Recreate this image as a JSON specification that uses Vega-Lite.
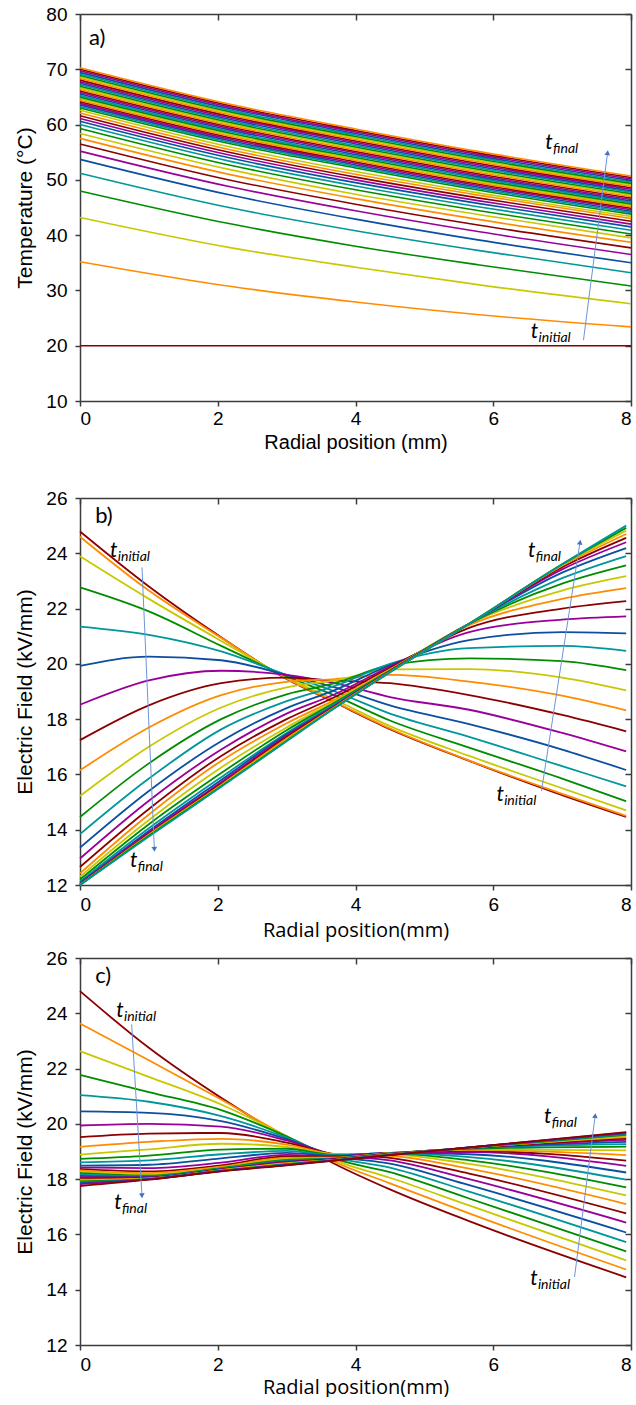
{
"$schema":"https://vega.github.io/schema/vega-lite/v6.json",
"padding":{"left":14,"top":5,"right":0,"bottom":0},
"config":{"view":{"stroke":null},"axis":{"domainColor":"#3c3c3c","tickColor":"#3c3c3c","domainWidth":1.5,"tickWidth":1.5,"labelFont":"Liberation Sans","labelFontSize":19,"labelColor":"#000","titleFont":"Liberation Sans","titleFontSize":20,"titleFontWeight":"normal","titleColor":"#000","grid":false,"tickSize":5,"labelPadding":8,"titlePadding":10}},
"datasets":{
"A":[
{"s":0,"r":0,"v":20},{"s":0,"r":2.2,"v":20},{"s":0,"r":4,"v":20},{"s":0,"r":5.8,"v":20},{"s":0,"r":8,"v":20},
{"s":1,"r":0,"v":35.2},{"s":1,"r":2.2,"v":30.7},{"s":1,"r":4,"v":27.9},{"s":1,"r":5.8,"v":25.6},{"s":1,"r":8,"v":23.4},
{"s":2,"r":0,"v":43.2},{"s":2,"r":2.2,"v":37.7},{"s":2,"r":4,"v":34.2},{"s":2,"r":5.8,"v":31.0},{"s":2,"r":8,"v":27.6},
{"s":3,"r":0,"v":48.0},{"s":3,"r":2.2,"v":42.0},{"s":3,"r":4,"v":38.0},{"s":3,"r":5.8,"v":34.6},{"s":3,"r":8,"v":30.8},
{"s":4,"r":0,"v":51.2},{"s":4,"r":2.2,"v":44.9},{"s":4,"r":4,"v":40.8},{"s":4,"r":5.8,"v":37.2},{"s":4,"r":8,"v":33.2},
{"s":5,"r":0,"v":53.7},{"s":5,"r":2.2,"v":47.2},{"s":5,"r":4,"v":42.9},{"s":5,"r":5.8,"v":39.1},{"s":5,"r":8,"v":35.0},
{"s":6,"r":0,"v":55.2},{"s":6,"r":2.2,"v":48.7},{"s":6,"r":4,"v":44.4},{"s":6,"r":5.8,"v":40.6},{"s":6,"r":8,"v":36.5},
{"s":7,"r":0,"v":56.5},{"s":7,"r":2.2,"v":49.9},{"s":7,"r":4,"v":45.6},{"s":7,"r":5.8,"v":41.8},{"s":7,"r":8,"v":37.7},
{"s":8,"r":0,"v":57.5},{"s":8,"r":2.2,"v":50.9},{"s":8,"r":4,"v":46.6},{"s":8,"r":5.8,"v":42.8},{"s":8,"r":8,"v":38.7},
{"s":9,"r":0,"v":58.4},{"s":9,"r":2.2,"v":51.8},{"s":9,"r":4,"v":47.4},{"s":9,"r":5.8,"v":43.7},{"s":9,"r":8,"v":39.5},
{"s":10,"r":0,"v":59.3},{"s":10,"r":2.2,"v":52.6},{"s":10,"r":4,"v":48.2},{"s":10,"r":5.8,"v":44.4},{"s":10,"r":8,"v":40.2},
{"s":11,"r":0,"v":60.0},{"s":11,"r":2.2,"v":53.3},{"s":11,"r":4,"v":48.9},{"s":11,"r":5.8,"v":45.1},{"s":11,"r":8,"v":40.9},
{"s":12,"r":0,"v":60.6},{"s":12,"r":2.2,"v":53.9},{"s":12,"r":4,"v":49.5},{"s":12,"r":5.8,"v":45.7},{"s":12,"r":8,"v":41.5},
{"s":13,"r":0,"v":61.1},{"s":13,"r":2.2,"v":54.4},{"s":13,"r":4,"v":50.0},{"s":13,"r":5.8,"v":46.2},{"s":13,"r":8,"v":42.0},
{"s":14,"r":0,"v":61.6},{"s":14,"r":2.2,"v":54.9},{"s":14,"r":4,"v":50.5},{"s":14,"r":5.8,"v":46.7},{"s":14,"r":8,"v":42.5},
{"s":15,"r":0,"v":62.1},{"s":15,"r":2.2,"v":55.4},{"s":15,"r":4,"v":51.0},{"s":15,"r":5.8,"v":47.2},{"s":15,"r":8,"v":43.0},
{"s":16,"r":0,"v":62.6},{"s":16,"r":2.2,"v":55.9},{"s":16,"r":4,"v":51.5},{"s":16,"r":5.8,"v":47.6},{"s":16,"r":8,"v":43.4},
{"s":17,"r":0,"v":63.0},{"s":17,"r":2.2,"v":56.47},{"s":17,"r":4,"v":52.15},{"s":17,"r":5.8,"v":48.12},{"s":17,"r":8,"v":43.8},
{"s":18,"r":0,"v":63.28},{"s":18,"r":2.2,"v":56.75},{"s":18,"r":4,"v":52.42},{"s":18,"r":5.8,"v":48.39},{"s":18,"r":8,"v":44.07},
{"s":19,"r":0,"v":63.56},{"s":19,"r":2.2,"v":57.02},{"s":19,"r":4,"v":52.7},{"s":19,"r":5.8,"v":48.66},{"s":19,"r":8,"v":44.33},
{"s":20,"r":0,"v":63.84},{"s":20,"r":2.2,"v":57.3},{"s":20,"r":4,"v":52.97},{"s":20,"r":5.8,"v":48.93},{"s":20,"r":8,"v":44.6},
{"s":21,"r":0,"v":64.12},{"s":21,"r":2.2,"v":57.57},{"s":21,"r":4,"v":53.24},{"s":21,"r":5.8,"v":49.19},{"s":21,"r":8,"v":44.86},
{"s":22,"r":0,"v":64.4},{"s":22,"r":2.2,"v":57.85},{"s":22,"r":4,"v":53.51},{"s":22,"r":5.8,"v":49.46},{"s":22,"r":8,"v":45.13},
{"s":23,"r":0,"v":64.68},{"s":23,"r":2.2,"v":58.12},{"s":23,"r":4,"v":53.78},{"s":23,"r":5.8,"v":49.73},{"s":23,"r":8,"v":45.39},
{"s":24,"r":0,"v":64.96},{"s":24,"r":2.2,"v":58.4},{"s":24,"r":4,"v":54.05},{"s":24,"r":5.8,"v":50.0},{"s":24,"r":8,"v":45.66},
{"s":25,"r":0,"v":65.24},{"s":25,"r":2.2,"v":58.67},{"s":25,"r":4,"v":54.32},{"s":25,"r":5.8,"v":50.27},{"s":25,"r":8,"v":45.92},
{"s":26,"r":0,"v":65.52},{"s":26,"r":2.2,"v":58.95},{"s":26,"r":4,"v":54.6},{"s":26,"r":5.8,"v":50.54},{"s":26,"r":8,"v":46.19},
{"s":27,"r":0,"v":65.8},{"s":27,"r":2.2,"v":59.22},{"s":27,"r":4,"v":54.87},{"s":27,"r":5.8,"v":50.8},{"s":27,"r":8,"v":46.45},
{"s":28,"r":0,"v":66.08},{"s":28,"r":2.2,"v":59.5},{"s":28,"r":4,"v":55.14},{"s":28,"r":5.8,"v":51.07},{"s":28,"r":8,"v":46.72},
{"s":29,"r":0,"v":66.36},{"s":29,"r":2.2,"v":59.77},{"s":29,"r":4,"v":55.41},{"s":29,"r":5.8,"v":51.34},{"s":29,"r":8,"v":46.98},
{"s":30,"r":0,"v":66.64},{"s":30,"r":2.2,"v":60.05},{"s":30,"r":4,"v":55.68},{"s":30,"r":5.8,"v":51.61},{"s":30,"r":8,"v":47.25},
{"s":31,"r":0,"v":66.92},{"s":31,"r":2.2,"v":60.32},{"s":31,"r":4,"v":55.95},{"s":31,"r":5.8,"v":51.88},{"s":31,"r":8,"v":47.51},
{"s":32,"r":0,"v":67.2},{"s":32,"r":2.2,"v":60.6},{"s":32,"r":4,"v":56.22},{"s":32,"r":5.8,"v":52.15},{"s":32,"r":8,"v":47.78},
{"s":33,"r":0,"v":67.48},{"s":33,"r":2.2,"v":60.87},{"s":33,"r":4,"v":56.5},{"s":33,"r":5.8,"v":52.41},{"s":33,"r":8,"v":48.04},
{"s":34,"r":0,"v":67.76},{"s":34,"r":2.2,"v":61.15},{"s":34,"r":4,"v":56.77},{"s":34,"r":5.8,"v":52.68},{"s":34,"r":8,"v":48.31},
{"s":35,"r":0,"v":68.04},{"s":35,"r":2.2,"v":61.42},{"s":35,"r":4,"v":57.04},{"s":35,"r":5.8,"v":52.95},{"s":35,"r":8,"v":48.57},
{"s":36,"r":0,"v":68.32},{"s":36,"r":2.2,"v":61.7},{"s":36,"r":4,"v":57.31},{"s":36,"r":5.8,"v":53.22},{"s":36,"r":8,"v":48.84},
{"s":37,"r":0,"v":68.6},{"s":37,"r":2.2,"v":61.97},{"s":37,"r":4,"v":57.58},{"s":37,"r":5.8,"v":53.49},{"s":37,"r":8,"v":49.1},
{"s":38,"r":0,"v":68.88},{"s":38,"r":2.2,"v":62.25},{"s":38,"r":4,"v":57.85},{"s":38,"r":5.8,"v":53.76},{"s":38,"r":8,"v":49.37},
{"s":39,"r":0,"v":69.16},{"s":39,"r":2.2,"v":62.52},{"s":39,"r":4,"v":58.12},{"s":39,"r":5.8,"v":54.02},{"s":39,"r":8,"v":49.63},
{"s":40,"r":0,"v":69.44},{"s":40,"r":2.2,"v":62.8},{"s":40,"r":4,"v":58.4},{"s":40,"r":5.8,"v":54.29},{"s":40,"r":8,"v":49.9},
{"s":41,"r":0,"v":69.72},{"s":41,"r":2.2,"v":63.07},{"s":41,"r":4,"v":58.67},{"s":41,"r":5.8,"v":54.56},{"s":41,"r":8,"v":50.16},
{"s":42,"r":0,"v":70.0},{"s":42,"r":2.2,"v":63.35},{"s":42,"r":4,"v":58.94},{"s":42,"r":5.8,"v":54.83},{"s":42,"r":8,"v":50.43},
{"s":43,"r":0,"v":70.28},{"s":43,"r":2.2,"v":63.62},{"s":43,"r":4,"v":59.21},{"s":43,"r":5.8,"v":55.1},{"s":43,"r":8,"v":50.69}
],
"B":[
{"s":0,"r":0,"v":24.79},{"s":0,"r":1,"v":22.8},{"s":0,"r":2.05,"v":20.96},{"s":0,"r":3,"v":19.45},{"s":0,"r":3.7,"v":18.6},{"s":0,"r":4.5,"v":17.64},{"s":0,"r":5.65,"v":16.49},{"s":0,"r":7,"v":15.25},{"s":0,"r":7.93,"v":14.46},
{"s":1,"r":0,"v":24.6},{"s":1,"r":1,"v":22.65},{"s":1,"r":2.05,"v":20.94},{"s":1,"r":3,"v":19.47},{"s":1,"r":3.7,"v":18.62},{"s":1,"r":4.5,"v":17.66},{"s":1,"r":5.65,"v":16.5},{"s":1,"r":7,"v":15.3},{"s":1,"r":7.93,"v":14.5},
{"s":2,"r":0,"v":23.89},{"s":2,"r":1,"v":22.35},{"s":2,"r":2.05,"v":20.83},{"s":2,"r":3,"v":19.5},{"s":2,"r":3.7,"v":18.7},{"s":2,"r":4.5,"v":17.75},{"s":2,"r":5.65,"v":16.67},{"s":2,"r":7,"v":15.5},{"s":2,"r":7.93,"v":14.7},
{"s":3,"r":0,"v":22.77},{"s":3,"r":1,"v":21.9},{"s":3,"r":2.05,"v":20.65},{"s":3,"r":3,"v":19.55},{"s":3,"r":3.7,"v":18.85},{"s":3,"r":4.5,"v":17.95},{"s":3,"r":5.65,"v":16.97},{"s":3,"r":7,"v":15.85},{"s":3,"r":7.93,"v":15.03},
{"s":4,"r":0,"v":21.35},{"s":4,"r":1,"v":21.05},{"s":4,"r":2.05,"v":20.45},{"s":4,"r":3,"v":19.6},{"s":4,"r":3.7,"v":19.0},{"s":4,"r":4.5,"v":18.2},{"s":4,"r":5.65,"v":17.36},{"s":4,"r":7,"v":16.3},{"s":4,"r":7.93,"v":15.57},
{"s":5,"r":0,"v":19.93},{"s":5,"r":1,"v":20.26},{"s":5,"r":2.05,"v":20.13},{"s":5,"r":3,"v":19.6},{"s":5,"r":3.7,"v":19.15},{"s":5,"r":4.5,"v":18.5},{"s":5,"r":5.65,"v":17.82},{"s":5,"r":7,"v":16.9},{"s":5,"r":7.93,"v":16.16},
{"s":6,"r":0,"v":18.52},{"s":6,"r":1,"v":19.4},{"s":6,"r":2.05,"v":19.75},{"s":6,"r":3,"v":19.6},{"s":6,"r":3.7,"v":19.3},{"s":6,"r":4.5,"v":18.8},{"s":6,"r":5.65,"v":18.34},{"s":6,"r":7,"v":17.5},{"s":6,"r":7.93,"v":16.83},
{"s":7,"r":0,"v":17.24},{"s":7,"r":1,"v":18.5},{"s":7,"r":2.05,"v":19.3},{"s":7,"r":3,"v":19.5},{"s":7,"r":3.7,"v":19.4},{"s":7,"r":4.5,"v":19.3},{"s":7,"r":5.65,"v":18.87},{"s":7,"r":7,"v":18.15},{"s":7,"r":7.93,"v":17.56},
{"s":8,"r":0,"v":16.15},{"s":8,"r":1,"v":17.7},{"s":8,"r":2.05,"v":18.87},{"s":8,"r":3,"v":19.35},{"s":8,"r":3.7,"v":19.45},{"s":8,"r":4.5,"v":19.6},{"s":8,"r":5.65,"v":19.36},{"s":8,"r":7,"v":18.85},{"s":8,"r":7.93,"v":18.32},
{"s":9,"r":0,"v":15.22},{"s":9,"r":1,"v":17.0},{"s":9,"r":2.05,"v":18.42},{"s":9,"r":3,"v":19.15},{"s":9,"r":3.7,"v":19.4},{"s":9,"r":4.5,"v":19.8},{"s":9,"r":5.65,"v":19.81},{"s":9,"r":7,"v":19.5},{"s":9,"r":7.93,"v":19.04},
{"s":10,"r":0,"v":14.46},{"s":10,"r":1,"v":16.4},{"s":10,"r":2.05,"v":18.0},{"s":10,"r":3,"v":18.9},{"s":10,"r":3.7,"v":19.3},{"s":10,"r":4.5,"v":19.95},{"s":10,"r":5.65,"v":20.2},{"s":10,"r":7,"v":20.1},{"s":10,"r":7.93,"v":19.77},
{"s":11,"r":0,"v":13.84},{"s":11,"r":1,"v":15.85},{"s":11,"r":2.05,"v":17.63},{"s":11,"r":3,"v":18.65},{"s":11,"r":3.7,"v":19.2},{"s":11,"r":4.5,"v":20.0},{"s":11,"r":5.65,"v":20.57},{"s":11,"r":7,"v":20.65},{"s":11,"r":7.93,"v":20.47},
{"s":12,"r":0,"v":13.35},{"s":12,"r":1,"v":15.4},{"s":12,"r":2.05,"v":17.2},{"s":12,"r":3,"v":18.4},{"s":12,"r":3.7,"v":19.05},{"s":12,"r":4.5,"v":19.95},{"s":12,"r":5.65,"v":20.86},{"s":12,"r":7,"v":21.15},{"s":12,"r":7.93,"v":21.1},
{"s":13,"r":0,"v":12.96},{"s":13,"r":1,"v":15.05},{"s":13,"r":2.05,"v":16.9},{"s":13,"r":3,"v":18.2},{"s":13,"r":3.7,"v":18.9},{"s":13,"r":4.5,"v":19.9},{"s":13,"r":5.65,"v":21.15},{"s":13,"r":7,"v":21.6},{"s":13,"r":7.93,"v":21.72},
{"s":14,"r":0,"v":12.65},{"s":14,"r":1,"v":14.75},{"s":14,"r":2.05,"v":16.67},{"s":14,"r":3,"v":18.0},{"s":14,"r":3.7,"v":18.8},{"s":14,"r":4.5,"v":19.85},{"s":14,"r":5.65,"v":21.3},{"s":14,"r":7,"v":22.0},{"s":14,"r":7.93,"v":22.27},
{"s":15,"r":0,"v":12.42},{"s":15,"r":1,"v":14.55},{"s":15,"r":2.05,"v":16.49},{"s":15,"r":3,"v":17.85},{"s":15,"r":3.7,"v":18.7},{"s":15,"r":4.5,"v":19.8},{"s":15,"r":5.65,"v":21.4},{"s":15,"r":7,"v":22.35},{"s":15,"r":7.93,"v":22.74},
{"s":16,"r":0,"v":12.3},{"s":16,"r":1,"v":14.35},{"s":16,"r":2.05,"v":16.25},{"s":16,"r":3,"v":17.7},{"s":16,"r":3.7,"v":18.65},{"s":16,"r":4.5,"v":19.78},{"s":16,"r":5.65,"v":21.45},{"s":16,"r":7,"v":22.65},{"s":16,"r":7.93,"v":23.17},
{"s":17,"r":0,"v":12.2},{"s":17,"r":1,"v":14.2},{"s":17,"r":2.05,"v":16.05},{"s":17,"r":3,"v":17.6},{"s":17,"r":3.7,"v":18.6},{"s":17,"r":4.5,"v":19.76},{"s":17,"r":5.65,"v":21.45},{"s":17,"r":7,"v":22.9},{"s":17,"r":7.93,"v":23.56},
{"s":18,"r":0,"v":12.12},{"s":18,"r":1,"v":14.05},{"s":18,"r":2.05,"v":15.9},{"s":18,"r":3,"v":17.5},{"s":18,"r":3.7,"v":18.55},{"s":18,"r":4.5,"v":19.75},{"s":18,"r":5.65,"v":21.45},{"s":18,"r":7,"v":23.1},{"s":18,"r":7.93,"v":23.9},
{"s":19,"r":0,"v":12.07},{"s":19,"r":1,"v":13.95},{"s":19,"r":2.05,"v":15.8},{"s":19,"r":3,"v":17.45},{"s":19,"r":3.7,"v":18.5},{"s":19,"r":4.5,"v":19.74},{"s":19,"r":5.65,"v":21.45},{"s":19,"r":7,"v":23.3},{"s":19,"r":7.93,"v":24.19},
{"s":20,"r":0,"v":12.04},{"s":20,"r":1,"v":13.9},{"s":20,"r":2.05,"v":15.72},{"s":20,"r":3,"v":17.4},{"s":20,"r":3.7,"v":18.48},{"s":20,"r":4.5,"v":19.73},{"s":20,"r":5.65,"v":21.45},{"s":20,"r":7,"v":23.42},{"s":20,"r":7.93,"v":24.4},
{"s":21,"r":0,"v":12.02},{"s":21,"r":1,"v":13.85},{"s":21,"r":2.05,"v":15.66},{"s":21,"r":3,"v":17.35},{"s":21,"r":3.7,"v":18.46},{"s":21,"r":4.5,"v":19.72},{"s":21,"r":5.65,"v":21.45},{"s":21,"r":7,"v":23.5},{"s":21,"r":7.93,"v":24.56},
{"s":22,"r":0,"v":12.01},{"s":22,"r":1,"v":13.82},{"s":22,"r":2.05,"v":15.62},{"s":22,"r":3,"v":17.3},{"s":22,"r":3.7,"v":18.44},{"s":22,"r":4.5,"v":19.71},{"s":22,"r":5.65,"v":21.45},{"s":22,"r":7,"v":23.55},{"s":22,"r":7.93,"v":24.7},
{"s":23,"r":0,"v":12.0},{"s":23,"r":1,"v":13.8},{"s":23,"r":2.05,"v":15.59},{"s":23,"r":3,"v":17.25},{"s":23,"r":3.7,"v":18.42},{"s":23,"r":4.5,"v":19.7},{"s":23,"r":5.65,"v":21.45},{"s":23,"r":7,"v":23.58},{"s":23,"r":7.93,"v":24.82},
{"s":24,"r":0,"v":12.0},{"s":24,"r":1,"v":13.78},{"s":24,"r":2.05,"v":15.57},{"s":24,"r":3,"v":17.22},{"s":24,"r":3.7,"v":18.41},{"s":24,"r":4.5,"v":19.7},{"s":24,"r":5.65,"v":21.45},{"s":24,"r":7,"v":23.6},{"s":24,"r":7.93,"v":24.92},
{"s":25,"r":0,"v":12.0},{"s":25,"r":1,"v":13.75},{"s":25,"r":2.05,"v":15.55},{"s":25,"r":3,"v":17.2},{"s":25,"r":3.7,"v":18.4},{"s":25,"r":4.5,"v":19.7},{"s":25,"r":5.65,"v":21.45},{"s":25,"r":7,"v":23.6},{"s":25,"r":7.93,"v":25.0}
],
"C":[
{"s":0,"r":0,"v":24.8},{"s":0,"r":1,"v":22.75},{"s":0,"r":2.05,"v":20.94},{"s":0,"r":3,"v":19.5},{"s":0,"r":3.7,"v":18.55},{"s":0,"r":4.5,"v":17.63},{"s":0,"r":5.65,"v":16.48},{"s":0,"r":7.93,"v":14.45},
{"s":1,"r":0,"v":23.63},{"s":1,"r":1,"v":22.3},{"s":1,"r":2.05,"v":20.88},{"s":1,"r":3,"v":19.55},{"s":1,"r":3.7,"v":18.62},{"s":1,"r":4.5,"v":17.85},{"s":1,"r":5.65,"v":16.76},{"s":1,"r":7.93,"v":14.73},
{"s":2,"r":0,"v":22.63},{"s":2,"r":1,"v":21.7},{"s":2,"r":2.05,"v":20.7},{"s":2,"r":3,"v":19.55},{"s":2,"r":3.7,"v":18.68},{"s":2,"r":4.5,"v":18.05},{"s":2,"r":5.65,"v":17.05},{"s":2,"r":7.93,"v":15.06},
{"s":3,"r":0,"v":21.77},{"s":3,"r":1,"v":21.15},{"s":3,"r":2.05,"v":20.5},{"s":3,"r":3,"v":19.55},{"s":3,"r":3.7,"v":18.74},{"s":3,"r":4.5,"v":18.25},{"s":3,"r":5.65,"v":17.3},{"s":3,"r":7.93,"v":15.39},
{"s":4,"r":0,"v":21.04},{"s":4,"r":1,"v":20.8},{"s":4,"r":2.05,"v":20.28},{"s":4,"r":3,"v":19.5},{"s":4,"r":3.7,"v":18.8},{"s":4,"r":4.5,"v":18.42},{"s":4,"r":5.65,"v":17.55},{"s":4,"r":7.93,"v":15.72},
{"s":5,"r":0,"v":20.45},{"s":5,"r":1,"v":20.4},{"s":5,"r":2.05,"v":20.1},{"s":5,"r":3,"v":19.45},{"s":5,"r":3.7,"v":18.85},{"s":5,"r":4.5,"v":18.56},{"s":5,"r":5.65,"v":17.78},{"s":5,"r":7.93,"v":16.07},
{"s":6,"r":0,"v":19.94},{"s":6,"r":1,"v":20.0},{"s":6,"r":2.05,"v":19.9},{"s":6,"r":3,"v":19.4},{"s":6,"r":3.7,"v":18.88},{"s":6,"r":4.5,"v":18.68},{"s":6,"r":5.65,"v":18.0},{"s":6,"r":7.93,"v":16.43},
{"s":7,"r":0,"v":19.52},{"s":7,"r":1,"v":19.65},{"s":7,"r":2.05,"v":19.67},{"s":7,"r":3,"v":19.32},{"s":7,"r":3.7,"v":18.9},{"s":7,"r":4.5,"v":18.77},{"s":7,"r":5.65,"v":18.2},{"s":7,"r":7.93,"v":16.76},
{"s":8,"r":0,"v":19.17},{"s":8,"r":1,"v":19.35},{"s":8,"r":2.05,"v":19.46},{"s":8,"r":3,"v":19.25},{"s":8,"r":3.7,"v":18.9},{"s":8,"r":4.5,"v":18.84},{"s":8,"r":5.65,"v":18.38},{"s":8,"r":7.93,"v":17.1},
{"s":9,"r":0,"v":18.89},{"s":9,"r":1,"v":19.08},{"s":9,"r":2.05,"v":19.28},{"s":9,"r":3,"v":19.17},{"s":9,"r":3.7,"v":18.9},{"s":9,"r":4.5,"v":18.89},{"s":9,"r":5.65,"v":18.55},{"s":9,"r":7.93,"v":17.41},
{"s":10,"r":0,"v":18.73},{"s":10,"r":1,"v":18.85},{"s":10,"r":2.05,"v":19.07},{"s":10,"r":3,"v":19.1},{"s":10,"r":3.7,"v":18.88},{"s":10,"r":4.5,"v":18.92},{"s":10,"r":5.65,"v":18.68},{"s":10,"r":7.93,"v":17.7},
{"s":11,"r":0,"v":18.61},{"s":11,"r":1,"v":18.68},{"s":11,"r":2.05,"v":18.9},{"s":11,"r":3,"v":19.02},{"s":11,"r":3.7,"v":18.86},{"s":11,"r":4.5,"v":18.94},{"s":11,"r":5.65,"v":18.8},{"s":11,"r":7.93,"v":17.98},
{"s":12,"r":0,"v":18.49},{"s":12,"r":1,"v":18.52},{"s":12,"r":2.05,"v":18.75},{"s":12,"r":3,"v":18.95},{"s":12,"r":3.7,"v":18.84},{"s":12,"r":4.5,"v":18.95},{"s":12,"r":5.65,"v":18.9},{"s":12,"r":7.93,"v":18.24},
{"s":13,"r":0,"v":18.42},{"s":13,"r":1,"v":18.4},{"s":13,"r":2.05,"v":18.6},{"s":13,"r":3,"v":18.88},{"s":13,"r":3.7,"v":18.82},{"s":13,"r":4.5,"v":18.95},{"s":13,"r":5.65,"v":18.98},{"s":13,"r":7.93,"v":18.48},
{"s":14,"r":0,"v":18.36},{"s":14,"r":1,"v":18.28},{"s":14,"r":2.05,"v":18.5},{"s":14,"r":3,"v":18.82},{"s":14,"r":3.7,"v":18.8},{"s":14,"r":4.5,"v":18.95},{"s":14,"r":5.65,"v":19.02},{"s":14,"r":7.93,"v":18.67},
{"s":15,"r":0,"v":18.32},{"s":15,"r":1,"v":18.22},{"s":15,"r":2.05,"v":18.45},{"s":15,"r":3,"v":18.77},{"s":15,"r":3.7,"v":18.78},{"s":15,"r":4.5,"v":18.94},{"s":15,"r":5.65,"v":19.06},{"s":15,"r":7.93,"v":18.87},
{"s":16,"r":0,"v":18.27},{"s":16,"r":1,"v":18.17},{"s":16,"r":2.05,"v":18.42},{"s":16,"r":3,"v":18.73},{"s":16,"r":3.7,"v":18.76},{"s":16,"r":4.5,"v":18.94},{"s":16,"r":5.65,"v":19.08},{"s":16,"r":7.93,"v":19.04},
{"s":17,"r":0,"v":18.22},{"s":17,"r":1,"v":18.13},{"s":17,"r":2.05,"v":18.4},{"s":17,"r":3,"v":18.7},{"s":17,"r":3.7,"v":18.75},{"s":17,"r":4.5,"v":18.93},{"s":17,"r":5.65,"v":19.1},{"s":17,"r":7.93,"v":19.18},
{"s":18,"r":0,"v":18.17},{"s":18,"r":1,"v":18.1},{"s":18,"r":2.05,"v":18.38},{"s":18,"r":3,"v":18.67},{"s":18,"r":3.7,"v":18.74},{"s":18,"r":4.5,"v":18.92},{"s":18,"r":5.65,"v":19.11},{"s":18,"r":7.93,"v":19.27},
{"s":19,"r":0,"v":18.12},{"s":19,"r":1,"v":18.08},{"s":19,"r":2.05,"v":18.36},{"s":19,"r":3,"v":18.64},{"s":19,"r":3.7,"v":18.73},{"s":19,"r":4.5,"v":18.92},{"s":19,"r":5.65,"v":19.12},{"s":19,"r":7.93,"v":19.35},
{"s":20,"r":0,"v":18.07},{"s":20,"r":1,"v":18.06},{"s":20,"r":2.05,"v":18.35},{"s":20,"r":3,"v":18.62},{"s":20,"r":3.7,"v":18.72},{"s":20,"r":4.5,"v":18.91},{"s":20,"r":5.65,"v":19.13},{"s":20,"r":7.93,"v":19.42},
{"s":21,"r":0,"v":18.02},{"s":21,"r":1,"v":18.04},{"s":21,"r":2.05,"v":18.34},{"s":21,"r":3,"v":18.6},{"s":21,"r":3.7,"v":18.71},{"s":21,"r":4.5,"v":18.9},{"s":21,"r":5.65,"v":19.13},{"s":21,"r":7.93,"v":19.48},
{"s":22,"r":0,"v":17.98},{"s":22,"r":1,"v":18.03},{"s":22,"r":2.05,"v":18.33},{"s":22,"r":3,"v":18.58},{"s":22,"r":3.7,"v":18.7},{"s":22,"r":4.5,"v":18.9},{"s":22,"r":5.65,"v":19.14},{"s":22,"r":7.93,"v":19.52},
{"s":23,"r":0,"v":17.95},{"s":23,"r":1,"v":18.02},{"s":23,"r":2.05,"v":18.32},{"s":23,"r":3,"v":18.56},{"s":23,"r":3.7,"v":18.7},{"s":23,"r":4.5,"v":18.89},{"s":23,"r":5.65,"v":19.14},{"s":23,"r":7.93,"v":19.56},
{"s":24,"r":0,"v":17.92},{"s":24,"r":1,"v":18.01},{"s":24,"r":2.05,"v":18.31},{"s":24,"r":3,"v":18.54},{"s":24,"r":3.7,"v":18.69},{"s":24,"r":4.5,"v":18.89},{"s":24,"r":5.65,"v":19.14},{"s":24,"r":7.93,"v":19.6},
{"s":25,"r":0,"v":17.88},{"s":25,"r":1,"v":18.0},{"s":25,"r":2.05,"v":18.3},{"s":25,"r":3,"v":18.53},{"s":25,"r":3.7,"v":18.69},{"s":25,"r":4.5,"v":18.88},{"s":25,"r":5.65,"v":19.15},{"s":25,"r":7.93,"v":19.63},
{"s":26,"r":0,"v":17.85},{"s":26,"r":1,"v":18.0},{"s":26,"r":2.05,"v":18.3},{"s":26,"r":3,"v":18.52},{"s":26,"r":3.7,"v":18.68},{"s":26,"r":4.5,"v":18.88},{"s":26,"r":5.65,"v":19.15},{"s":26,"r":7.93,"v":19.66},
{"s":27,"r":0,"v":17.82},{"s":27,"r":1,"v":17.99},{"s":27,"r":2.05,"v":18.29},{"s":27,"r":3,"v":18.51},{"s":27,"r":3.7,"v":18.68},{"s":27,"r":4.5,"v":18.87},{"s":27,"r":5.65,"v":19.15},{"s":27,"r":7.93,"v":19.68},
{"s":28,"r":0,"v":17.75},{"s":28,"r":1,"v":17.98},{"s":28,"r":2.05,"v":18.28},{"s":28,"r":3,"v":18.5},{"s":28,"r":3.7,"v":18.67},{"s":28,"r":4.5,"v":18.87},{"s":28,"r":5.65,"v":19.15},{"s":28,"r":7.93,"v":19.7}
],
"AT":[{"r":6.81,"v":56.6,"sub":"final"},{"r":6.6,"v":22.5,"sub":"initial"}],
"AL":[{"r":0.13,"v":75.6,"lab":"a)"}],
"AA":[{"id":"R","r":7.31,"v":21.0,"end":"tail"},{"id":"R","r":7.66,"v":54.9,"end":"head"}],
"BT":[{"r":0.49,"v":24.08,"sub":"initial"},{"r":0.78,"v":12.87,"sub":"final"},{"r":6.56,"v":24.09,"sub":"final"},{"r":6.1,"v":15.25,"sub":"initial"}],
"BL":[{"r":0.22,"v":25.36,"lab":"b)"}],
"BA":[{"id":"L","r":0.9,"v":23.49,"end":"tail"},{"id":"L","r":1.08,"v":13.29,"end":"head"},{"id":"R","r":6.7,"v":15.4,"end":"tail"},{"id":"R","r":7.26,"v":24.4,"end":"head"}],
"CT":[{"r":0.58,"v":24.08,"sub":"initial"},{"r":0.55,"v":17.15,"sub":"final"},{"r":6.79,"v":20.24,"sub":"final"},{"r":6.59,"v":14.4,"sub":"initial"}],
"CL":[{"r":0.22,"v":25.34,"lab":"c)"}],
"CA":[{"id":"L","r":0.75,"v":23.6,"end":"tail"},{"id":"L","r":0.9,"v":17.4,"end":"head"},{"id":"R","r":7.18,"v":14.46,"end":"tail"},{"id":"R","r":7.48,"v":20.3,"end":"head"}]
},
"spacing":37,
"resolve":{"scale":{"x":"independent","y":"independent","color":"independent"}},
"vconcat":[
{
"width":551,"height":387,
"resolve":{"axis":{"x":"independent","y":"independent"}},
"layer":[
{"data":{"name":"A"},"mark":{"type":"line","strokeWidth":1.6,"interpolate":"monotone"},
"encoding":{
"x":{"field":"r","type":"quantitative","scale":{"domain":[0,8],"nice":false,"zero":false},"axis":{"values":[0,2,4,6,8],"title":"Radial position (mm)","labelPadding":3,"titlePadding":4}},
"y":{"field":"v","type":"quantitative","scale":{"domain":[10,80],"nice":false,"zero":false},"axis":{"values":[10,20,30,40,50,60,70,80],"title":"Temperature (°C)","titleFontSize":21}},
"color":{"field":"s","type":"ordinal","scale":{"range":["#8B0000","#FF8C00","#C8C800","#008C00","#00979A","#0B4FA0","#990099"]},"legend":null}}},
{"data":{"name":"AA"},"mark":{"type":"line","color":"#6E95D8","strokeWidth":1},
"encoding":{
"x":{"field":"r","type":"quantitative","scale":{"domain":[0,8],"nice":false,"zero":false},"axis":{"orient":"top","values":[0,2,4,6,8],"labels":false,"title":null,"tickSize":-6}},
"y":{"field":"v","type":"quantitative","scale":{"domain":[10,80],"nice":false,"zero":false},"axis":{"orient":"right","values":[10,20,30,40,50,60,70,80],"labels":false,"title":null,"tickSize":-6}},
"detail":{"field":"id"}}},
{"data":{"name":"AA"},"transform":[{"filter":"datum.end == 'head'"}],"mark":{"type":"point","shape":"triangle-up","filled":true,"size":32,"angle":7.4,"color":"#4472C4","opacity":1},
"encoding":{"x":{"field":"r","type":"quantitative","scale":{"domain":[0,8],"nice":false,"zero":false},"axis":null},"y":{"field":"v","type":"quantitative","scale":{"domain":[10,80],"nice":false,"zero":false},"axis":null}}},
{"data":{"name":"AT"},"mark":{"type":"text","text":"t","font":"Lato","fontStyle":"italic","fontSize":21,"align":"center","baseline":"middle","color":"#000"},
"encoding":{"x":{"field":"r","type":"quantitative","scale":{"domain":[0,8],"nice":false,"zero":false},"axis":null},"y":{"field":"v","type":"quantitative","scale":{"domain":[10,80],"nice":false,"zero":false},"axis":null}}},
{"data":{"name":"AT"},"mark":{"type":"text","font":"Lato","fontStyle":"italic","fontSize":14,"align":"left","baseline":"middle","dx":4,"dy":6,"color":"#000"},
"encoding":{"x":{"field":"r","type":"quantitative","scale":{"domain":[0,8],"nice":false,"zero":false},"axis":null},"y":{"field":"v","type":"quantitative","scale":{"domain":[10,80],"nice":false,"zero":false},"axis":null},"text":{"field":"sub"}}},
{"data":{"name":"AL"},"mark":{"type":"text","font":"Lato","fontSize":22,"align":"left","baseline":"middle","color":"#000"},
"encoding":{"x":{"field":"r","type":"quantitative","scale":{"domain":[0,8],"nice":false,"zero":false},"axis":null},"y":{"field":"v","type":"quantitative","scale":{"domain":[10,80],"nice":false,"zero":false},"axis":null},"text":{"field":"lab"}}}
]
},
{
"spacing":9,
"resolve":{"scale":{"x":"independent","y":"independent","color":"independent"}},
"vconcat":[
{
"width":551,"height":387,
"resolve":{"axis":{"x":"independent","y":"independent"}},
"layer":[
{"data":{"name":"B"},"mark":{"type":"line","strokeWidth":1.8,"interpolate":"monotone"},
"encoding":{
"x":{"field":"r","type":"quantitative","scale":{"domain":[0,8],"nice":false,"zero":false},"axis":{"values":[0,2,4,6,8],"title":"Radial position(mm)","titleFont":"Open Sans","labelPadding":5,"titlePadding":6}},
"y":{"field":"v","type":"quantitative","scale":{"domain":[12,26],"nice":false,"zero":false},"axis":{"values":[12,14,16,18,20,22,24,26],"title":"Electric Field (kV/mm)","titleFontSize":21}},
"color":{"field":"s","type":"ordinal","scale":{"range":["#8B0000","#FF8C00","#C8C800","#008C00","#00979A","#0B4FA0","#990099"]},"legend":null}}},
{"data":{"name":"BA"},"mark":{"type":"line","color":"#6E95D8","strokeWidth":1},
"encoding":{
"x":{"field":"r","type":"quantitative","scale":{"domain":[0,8],"nice":false,"zero":false},"axis":{"orient":"top","values":[0,2,4,6,8],"labels":false,"title":null,"tickSize":-6}},
"y":{"field":"v","type":"quantitative","scale":{"domain":[12,26],"nice":false,"zero":false},"axis":{"orient":"right","values":[12,14,16,18,20,22,24,26],"labels":false,"title":null,"tickSize":-6}},
"detail":{"field":"id"}}},
{"data":{"name":"BA"},"transform":[{"filter":"datum.end == 'head' && datum.id == 'L'"}],"mark":{"type":"point","shape":"triangle-up","filled":true,"size":32,"angle":177.5,"color":"#4472C4","opacity":1},
"encoding":{"x":{"field":"r","type":"quantitative","scale":{"domain":[0,8],"nice":false,"zero":false},"axis":null},"y":{"field":"v","type":"quantitative","scale":{"domain":[12,26],"nice":false,"zero":false},"axis":null}}},
{"data":{"name":"BA"},"transform":[{"filter":"datum.end == 'head' && datum.id == 'R'"}],"mark":{"type":"point","shape":"triangle-up","filled":true,"size":32,"angle":8.8,"color":"#4472C4","opacity":1},
"encoding":{"x":{"field":"r","type":"quantitative","scale":{"domain":[0,8],"nice":false,"zero":false},"axis":null},"y":{"field":"v","type":"quantitative","scale":{"domain":[12,26],"nice":false,"zero":false},"axis":null}}},
{"data":{"name":"BT"},"mark":{"type":"text","text":"t","font":"Lato","fontStyle":"italic","fontSize":21,"align":"center","baseline":"middle","color":"#000"},
"encoding":{"x":{"field":"r","type":"quantitative","scale":{"domain":[0,8],"nice":false,"zero":false},"axis":null},"y":{"field":"v","type":"quantitative","scale":{"domain":[12,26],"nice":false,"zero":false},"axis":null}}},
{"data":{"name":"BT"},"mark":{"type":"text","font":"Lato","fontStyle":"italic","fontSize":14,"align":"left","baseline":"middle","dx":4,"dy":6,"color":"#000"},
"encoding":{"x":{"field":"r","type":"quantitative","scale":{"domain":[0,8],"nice":false,"zero":false},"axis":null},"y":{"field":"v","type":"quantitative","scale":{"domain":[12,26],"nice":false,"zero":false},"axis":null},"text":{"field":"sub"}}},
{"data":{"name":"BL"},"mark":{"type":"text","font":"Lato","fontSize":22,"align":"left","baseline":"middle","color":"#000"},
"encoding":{"x":{"field":"r","type":"quantitative","scale":{"domain":[0,8],"nice":false,"zero":false},"axis":null},"y":{"field":"v","type":"quantitative","scale":{"domain":[12,26],"nice":false,"zero":false},"axis":null},"text":{"field":"lab"}}}
]
},
{
"width":551,"height":387,
"resolve":{"axis":{"x":"independent","y":"independent"}},
"layer":[
{"data":{"name":"C"},"mark":{"type":"line","strokeWidth":1.8,"interpolate":"monotone"},
"encoding":{
"x":{"field":"r","type":"quantitative","scale":{"domain":[0,8],"nice":false,"zero":false},"axis":{"values":[0,2,4,6,8],"title":"Radial position(mm)","titleFont":"Open Sans","labelPadding":5,"titlePadding":3}},
"y":{"field":"v","type":"quantitative","scale":{"domain":[12,26],"nice":false,"zero":false},"axis":{"values":[12,14,16,18,20,22,24,26],"title":"Electric Field (kV/mm)","titleFontSize":21}},
"color":{"field":"s","type":"ordinal","scale":{"range":["#8B0000","#FF8C00","#C8C800","#008C00","#00979A","#0B4FA0","#990099"]},"legend":null}}},
{"data":{"name":"CA"},"mark":{"type":"line","color":"#6E95D8","strokeWidth":1},
"encoding":{
"x":{"field":"r","type":"quantitative","scale":{"domain":[0,8],"nice":false,"zero":false},"axis":{"orient":"top","values":[0,2,4,6,8],"labels":false,"title":null,"tickSize":-6}},
"y":{"field":"v","type":"quantitative","scale":{"domain":[12,26],"nice":false,"zero":false},"axis":{"orient":"right","values":[12,14,16,18,20,22,24,26],"labels":false,"title":null,"tickSize":-6}},
"detail":{"field":"id"}}},
{"data":{"name":"CA"},"transform":[{"filter":"datum.end == 'head' && datum.id == 'L'"}],"mark":{"type":"point","shape":"triangle-up","filled":true,"size":32,"angle":176.6,"color":"#4472C4","opacity":1},
"encoding":{"x":{"field":"r","type":"quantitative","scale":{"domain":[0,8],"nice":false,"zero":false},"axis":null},"y":{"field":"v","type":"quantitative","scale":{"domain":[12,26],"nice":false,"zero":false},"axis":null}}},
{"data":{"name":"CA"},"transform":[{"filter":"datum.end == 'head' && datum.id == 'R'"}],"mark":{"type":"point","shape":"triangle-up","filled":true,"size":32,"angle":7.3,"color":"#4472C4","opacity":1},
"encoding":{"x":{"field":"r","type":"quantitative","scale":{"domain":[0,8],"nice":false,"zero":false},"axis":null},"y":{"field":"v","type":"quantitative","scale":{"domain":[12,26],"nice":false,"zero":false},"axis":null}}},
{"data":{"name":"CT"},"mark":{"type":"text","text":"t","font":"Lato","fontStyle":"italic","fontSize":21,"align":"center","baseline":"middle","color":"#000"},
"encoding":{"x":{"field":"r","type":"quantitative","scale":{"domain":[0,8],"nice":false,"zero":false},"axis":null},"y":{"field":"v","type":"quantitative","scale":{"domain":[12,26],"nice":false,"zero":false},"axis":null}}},
{"data":{"name":"CT"},"mark":{"type":"text","font":"Lato","fontStyle":"italic","fontSize":14,"align":"left","baseline":"middle","dx":4,"dy":6,"color":"#000"},
"encoding":{"x":{"field":"r","type":"quantitative","scale":{"domain":[0,8],"nice":false,"zero":false},"axis":null},"y":{"field":"v","type":"quantitative","scale":{"domain":[12,26],"nice":false,"zero":false},"axis":null},"text":{"field":"sub"}}},
{"data":{"name":"CL"},"mark":{"type":"text","font":"Lato","fontSize":22,"align":"left","baseline":"middle","color":"#000"},
"encoding":{"x":{"field":"r","type":"quantitative","scale":{"domain":[0,8],"nice":false,"zero":false},"axis":null},"y":{"field":"v","type":"quantitative","scale":{"domain":[12,26],"nice":false,"zero":false},"axis":null},"text":{"field":"lab"}}}
]
}
]
}
]
}
